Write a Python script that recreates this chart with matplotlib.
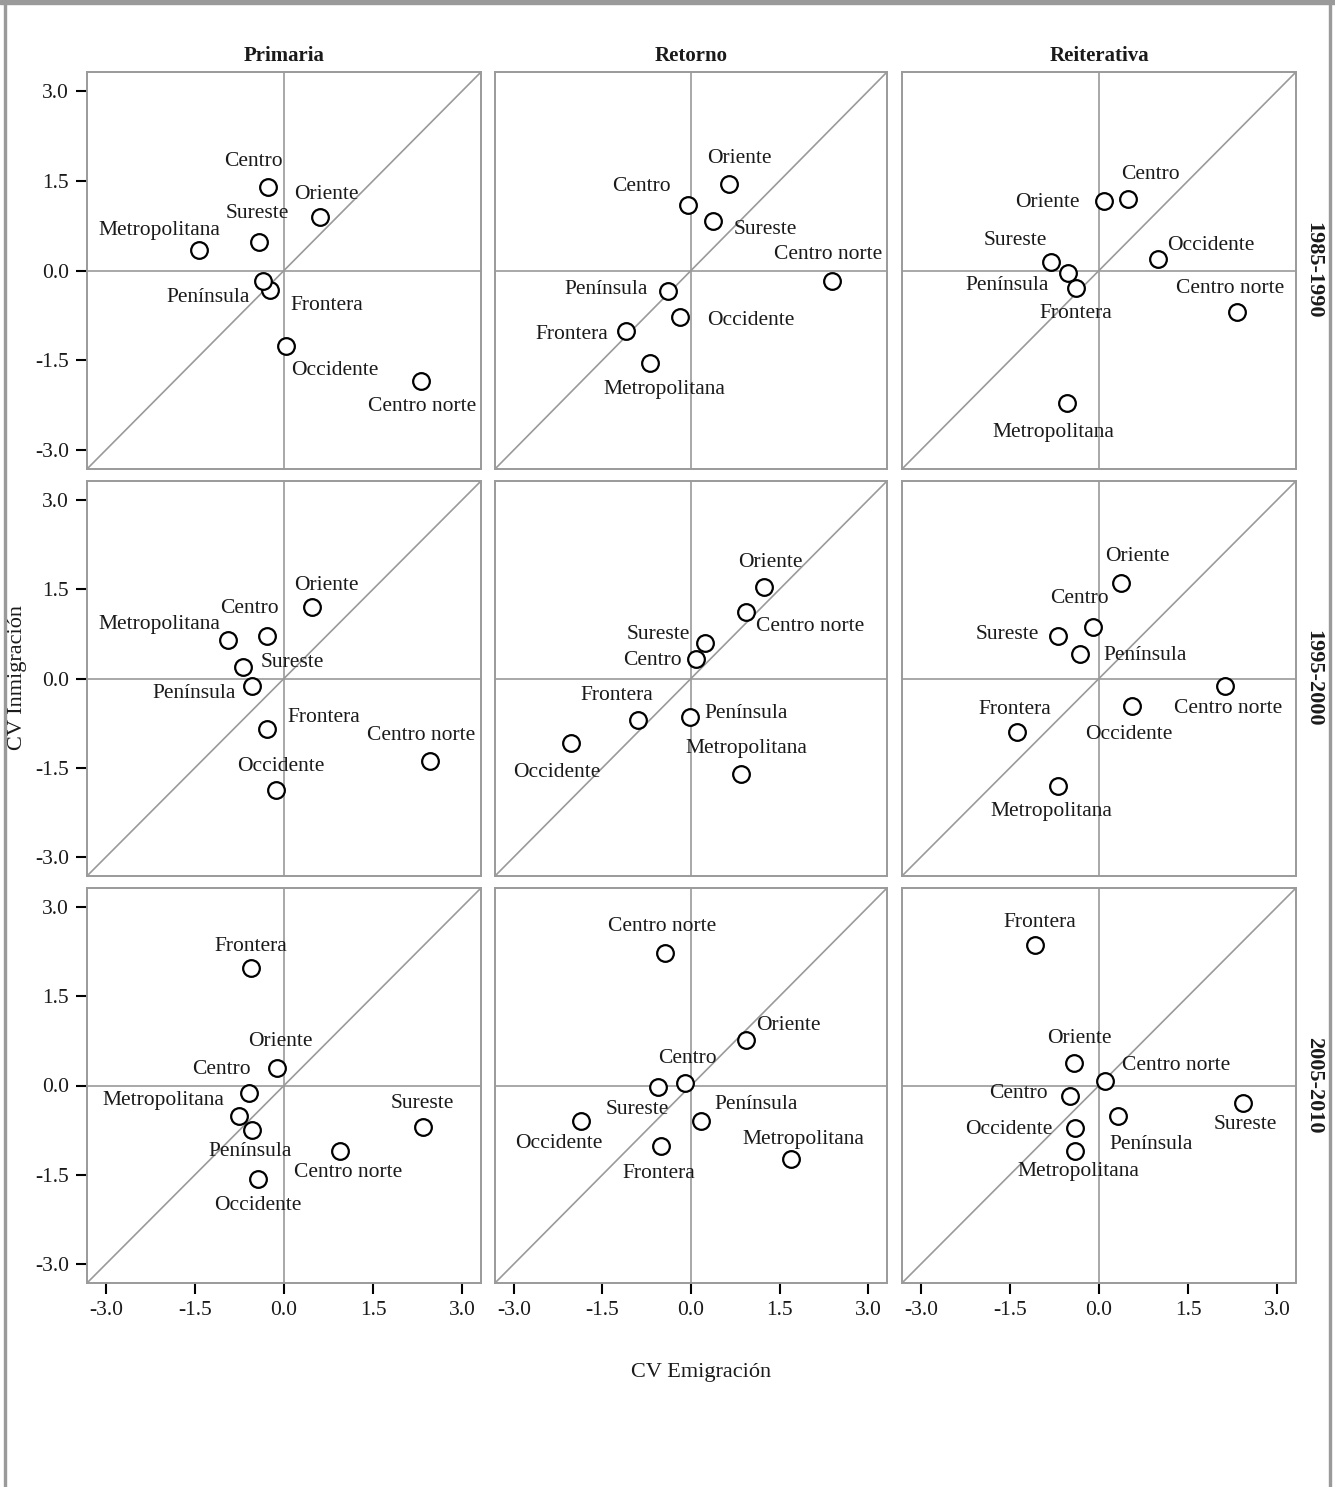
import matplotlib
matplotlib.use("Agg")
import matplotlib.pyplot as plt
from matplotlib.patches import Rectangle

plt.rcParams['font.family'] = ['Liberation Serif', 'DejaVu Serif']

# --- data -----------------------------------------------------------------
tipos = ["Primaria", "Retorno", "Reiterativa"]
periodos = ["1985-1990", "1995-2000", "2005-2010"]
regiones = ["Centro", "Centro norte", "Frontera", "Metropolitana",
            "Occidente", "Oriente", "Península", "Sureste"]
ticks = [-3.0, -1.5, 0.0, 1.5, 3.0]
tick_labels = ["-3.0", "-1.5", "0.0", "1.5", "3.0"]

# CV Emigración (x) / CV Inmigración (y), one pair per panel, order = regiones
emig_85_prim = [-0.27, 2.31, -0.24, -1.43, 0.03, 0.61, -0.35, -0.42]
inmi_85_prim = [1.40, -1.84, -0.33, 0.35, -1.27, 0.90, -0.18, 0.47]
emig_85_ret = [-0.05, 2.39, -1.10, -0.69, -0.19, 0.64, -0.39, 0.37]
inmi_85_ret = [1.09, -0.18, -1.02, -1.54, -0.77, 1.44, -0.35, 0.82]
emig_85_rei = [0.49, 2.33, -0.39, -0.54, 0.99, 0.08, -0.52, -0.81]
inmi_85_rei = [1.20, -0.70, -0.30, -2.21, 0.20, 1.17, -0.05, 0.15]

emig_95_prim = [-0.29, 2.46, -0.29, -0.94, -0.13, 0.47, -0.54, -0.69]
inmi_95_prim = [0.72, -1.39, -0.85, 0.64, -1.87, 1.20, -0.13, 0.20]
emig_95_ret = [0.08, 0.94, -0.89, 0.84, -2.04, 1.23, -0.02, 0.24]
inmi_95_ret = [0.33, 1.12, -0.70, -1.61, -1.09, 1.54, -0.64, 0.59]
emig_95_rei = [-0.10, 2.12, -1.38, -0.69, 0.56, 0.37, -0.32, -0.69]
inmi_95_rei = [0.87, -0.12, -0.90, -1.81, -0.47, 1.61, 0.42, 0.72]

emig_05_prim = [-0.59, 0.94, -0.56, -0.76, -0.44, -0.12, -0.54, 2.34]
inmi_05_prim = [-0.12, -1.10, 1.97, -0.52, -1.57, 0.30, -0.75, -0.70]
emig_05_ret = [-0.10, -0.44, -0.51, 1.70, -1.87, 0.94, 0.17, -0.56]
inmi_05_ret = [0.05, 2.22, -1.02, -1.24, -0.59, 0.77, -0.59, -0.02]
emig_05_rei = [-0.49, 0.10, -1.08, -0.40, -0.40, -0.42, 0.32, 2.43]
inmi_05_rei = [-0.17, 0.08, 2.37, -1.10, -0.72, 0.38, -0.52, -0.30]

emig = [[emig_85_prim, emig_85_ret, emig_85_rei],
        [emig_95_prim, emig_95_ret, emig_95_rei],
        [emig_05_prim, emig_05_ret, emig_05_rei]]
inmi = [[inmi_85_prim, inmi_85_ret, inmi_85_rei],
        [inmi_95_prim, inmi_95_ret, inmi_95_rei],
        [inmi_05_prim, inmi_05_ret, inmi_05_rei]]

# label placement relative to each marker (pixels), order = regiones
label_offsets = [
    [[(-15, 25), (1, -26), (57, -15), (-40, 19), (49, -24), (6, 22), (-55, -16), (-2, 29)],
     [(-47, 19), (-4, 27), (-54, -3), (14, -27), (71, -4), (11, 26), (-62, 2), (52, -8)],
     [(22, 24), (-7, 24), (0, -25), (-14, -30), (53, 13), (-56, -2), (-61, -12), (-36, 21)]],
    [[(-17, 27), (-9, 26), (57, 12), (-69, 16), (5, 23), (14, 22), (-58, -7), (49, 4)],
     [(-43, -2), (64, -15), (-22, 25), (6, 26), (-14, -29), (7, 24), (56, 3), (-47, 9)],
     [(-14, 28), (3, -23), (-2, 23), (-7, -25), (-3, -28), (16, 26), (65, -2), (-51, 1)]],
    [[(-28, 23), (8, -22), (0, 22), (-76, 16), (0, -27), (3, 26), (-2, -21), (-1, 24)],
     [(2, 24), (-3, 27), (-2, -27), (12, 20), (-22, -23), (42, 14), (55, 16), (-21, -23)],
     [(-51, 2), (71, 15), (5, 22), (3, -21), (-66, -1), (5, 24), (33, -28), (2, -21)]],
]

# --- layout ---------------------------------------------------------------
W, H = 1335, 1487
fig = plt.figure(figsize=(W / 100, H / 100), dpi=100)

gray = "#9a9a9a"
ink = "#1a1a1a"
col_left = [87, 495, 902]
col_w = [394, 392, 394]
row_top = [72, 481, 888]
row_h = [397, 395, 395]
lim = 3.32

for r in range(3):
    for c in range(3):
        ax = fig.add_axes([col_left[c] / W, 1 - (row_top[r] + row_h[r]) / H,
                           col_w[c] / W, row_h[r] / H])
        ax.set_xlim(-lim, lim)
        ax.set_ylim(-lim, lim)
        for s in ax.spines.values():
            s.set_color(gray)
            s.set_linewidth(1.4)
        ax.axhline(0, color=gray, lw=1.2, zorder=1)
        ax.axvline(0, color=gray, lw=1.2, zorder=1)
        ax.axline((0, 0), slope=1, color=gray, lw=1.2, zorder=1)

        ax.plot(emig[r][c], inmi[r][c], 'o', ms=12, mfc='white', mec='black',
                mew=1.6, zorder=3, clip_on=False)
        for i, name in enumerate(regiones):
            dx, dy = label_offsets[r][c][i]
            ax.annotate(name, (emig[r][c][i], inmi[r][c][i]), xytext=(dx, dy),
                        textcoords='offset pixels', ha='center', va='center',
                        fontsize=15.5, color=ink, zorder=4)

        ax.set_xticks(ticks)
        ax.set_yticks(ticks)
        ax.tick_params(length=8, width=1.5, color='black', labelsize=15.5,
                       labelcolor=ink, pad=5)
        if c == 0:
            ax.set_yticklabels(tick_labels)
        else:
            ax.tick_params(axis='y', left=False, labelleft=False)
        if r == 2:
            ax.set_xticklabels(tick_labels)
        else:
            ax.tick_params(axis='x', bottom=False, labelbottom=False)
        if r == 0:
            ax.set_title(tipos[c], fontsize=15, fontweight='bold', pad=8,
                         color=ink)
        if c == 2:
            ax.text(1.045, 0.5, periodos[r], transform=ax.transAxes,
                    rotation=270, ha='center', va='center', fontsize=16,
                    fontweight='bold', color=ink)

fig.text(18 / W, 1 - 678 / H, "CV Inmigración", rotation=90, ha='center',
         va='center', fontsize=16, color=ink)
fig.text(701 / W, 1 - 1372 / H, "CV Emigración", ha='center', va='center',
         fontsize=16, color=ink)

# outer frame
fig.patches.append(Rectangle((0, 1 - 4 / H), 1, 4 / H, transform=fig.transFigure,
                             color=gray, zorder=0))
fig.patches.append(Rectangle((4 / W, 0), 2 / W, 1, transform=fig.transFigure,
                             color=gray, zorder=0))
fig.patches.append(Rectangle((1329 / W, 0), 2 / W, 1, transform=fig.transFigure,
                             color=gray, zorder=0))

fig.savefig("out.png", dpi=100)
